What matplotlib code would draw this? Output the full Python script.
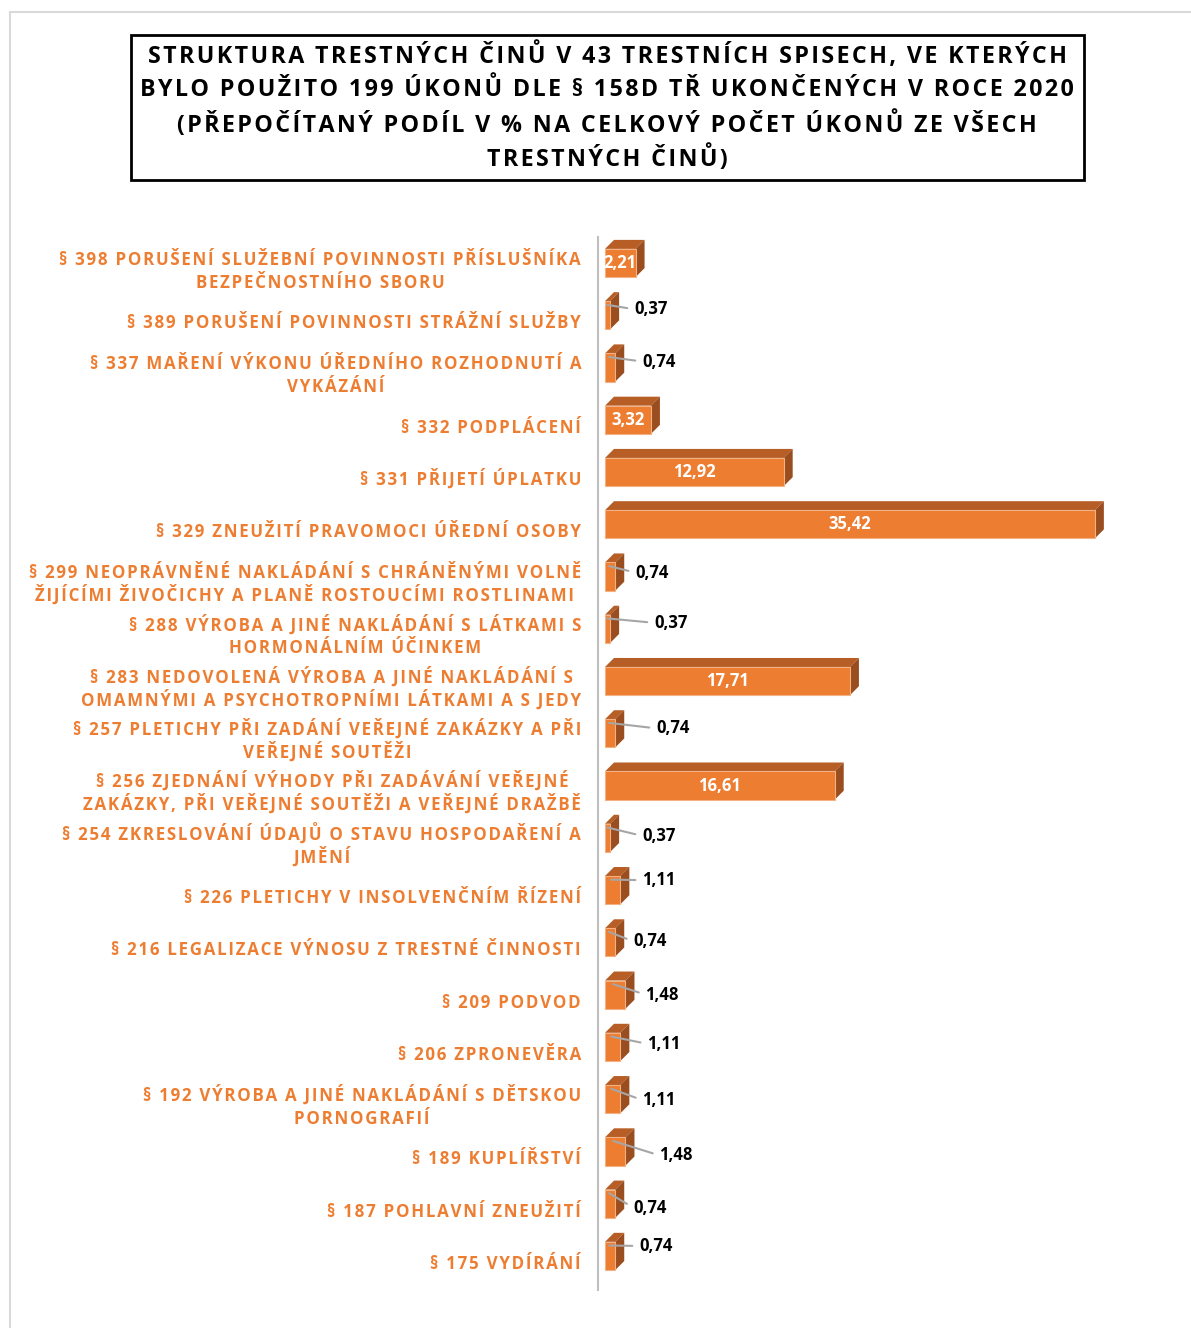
import matplotlib
matplotlib.use("Agg")
import matplotlib.pyplot as plt
from matplotlib.patches import Polygon, Rectangle
from matplotlib.transforms import blended_transform_factory, offset_copy

plt.rcParams['font.family'] = ['Open Sans', 'DejaVu Sans']

title_lines = [
    "STRUKTURA TRESTNÝCH ČINŮ V 43 TRESTNÍCH SPISECH, VE KTERÝCH",
    "BYLO POUŽITO 199 ÚKONŮ DLE § 158D TŘ UKONČENÝCH V ROCE 2020",
    "(PŘEPOČÍTANÝ PODÍL V % NA CELKOVÝ POČET ÚKONŮ ZE VŠECH",
    "TRESTNÝCH ČINŮ)",
]

categories = [
    "§ 398 PORUŠENÍ SLUŽEBNÍ POVINNOSTI PŘÍSLUŠNÍKA\nBEZPEČNOSTNÍHO SBORU",
    "§ 389 PORUŠENÍ POVINNOSTI STRÁŽNÍ SLUŽBY",
    "§ 337 MAŘENÍ VÝKONU ÚŘEDNÍHO ROZHODNUTÍ A\nVYKÁZÁNÍ",
    "§ 332 PODPLÁCENÍ",
    "§ 331 PŘIJETÍ ÚPLATKU",
    "§ 329 ZNEUŽITÍ PRAVOMOCI ÚŘEDNÍ OSOBY",
    "§ 299 NEOPRÁVNĚNÉ NAKLÁDÁNÍ S CHRÁNĚNÝMI VOLNĚ\nŽIJÍCÍMI ŽIVOČICHY A PLANĚ ROSTOUCÍMI ROSTLINAMI",
    "§ 288 VÝROBA A JINÉ NAKLÁDÁNÍ S LÁTKAMI S\nHORMONÁLNÍM ÚČINKEM",
    "§ 283 NEDOVOLENÁ VÝROBA A JINÉ NAKLÁDÁNÍ S\nOMAMNÝMI A PSYCHOTROPNÍMI LÁTKAMI A S JEDY",
    "§ 257 PLETICHY PŘI ZADÁNÍ VEŘEJNÉ ZAKÁZKY A PŘI\nVEŘEJNÉ SOUTĚŽI",
    "§ 256 ZJEDNÁNÍ VÝHODY PŘI ZADÁVÁNÍ VEŘEJNÉ\nZAKÁZKY, PŘI VEŘEJNÉ SOUTĚŽI A VEŘEJNÉ DRAŽBĚ",
    "§ 254 ZKRESLOVÁNÍ ÚDAJŮ O STAVU HOSPODAŘENÍ A\nJMĚNÍ",
    "§ 226 PLETICHY V INSOLVENČNÍM ŘÍZENÍ",
    "§ 216 LEGALIZACE VÝNOSU Z TRESTNÉ ČINNOSTI",
    "§ 209 PODVOD",
    "§ 206 ZPRONEVĚRA",
    "§ 192 VÝROBA A JINÉ NAKLÁDÁNÍ S DĚTSKOU\nPORNOGRAFIÍ",
    "§ 189 KUPLÍŘSTVÍ",
    "§ 187 POHLAVNÍ ZNEUŽITÍ",
    "§ 175 VYDÍRÁNÍ",
]

values = [2.21, 0.37, 0.74, 3.32, 12.92, 35.42, 0.74, 0.37, 17.71, 0.74,
          16.61, 0.37, 1.11, 0.74, 1.48, 1.11, 1.11, 1.48, 0.74, 0.74]

value_labels = ["2,21", "0,37", "0,74", "3,32", "12,92", "35,42", "0,74", "0,37",
                "17,71", "0,74", "16,61", "0,37", "1,11", "0,74", "1,48", "1,11",
                "1,11", "1,48", "0,74", "0,74"]

# label placement: None = inside bar, else pixel offset (right, down) from bar end
label_offsets = [None, (24, -6), (27, -6), None, None, None, (20, -4), (44, -6),
                 None, (41, -5), None, (32, -2), (22, -10), (18, -1), (20, 0),
                 (27, -3), (22, 1), (34, 4), (18, 4), (24, -10)]

W, H = 1191, 1328
fig = plt.figure(figsize=(W / 100, H / 100), dpi=100)
fig.patch.set_facecolor('white')

# outer frame
fig.add_artist(Rectangle((10 / W, -0.01), 1.1, 1 - 12 / H + 0.01, transform=fig.transFigure,
                         fill=False, edgecolor='#D9D9D9', linewidth=1.5))

# title box
bx0, bx1, by0, by1 = 131, 1084, 35, 180
fig.add_artist(Rectangle((bx0 / W, 1 - by1 / H), (bx1 - bx0) / W, (by1 - by0) / H,
                         transform=fig.transFigure, fill=False, edgecolor='black', linewidth=2))

HS = '\u200a'


def spaced(s, sep=HS):
    return sep.join(list(s))


for yy, line in zip([56, 90, 125, 159], title_lines):
    fig.text(607 / W, 1 - yy / H, spaced(line), ha='center', va='center',
             fontsize=16.75, fontweight='bold', color='black')

# axes geometry
px_per_unit = 13.83
ax_left_px, ax_right_px = 598, 1150
ax_top_px, ax_bot_px = 237, 1290
ax = fig.add_axes([ax_left_px / W, 1 - ax_bot_px / H,
                   (ax_right_px - ax_left_px) / W, (ax_bot_px - ax_top_px) / H])
x0 = -(605 - ax_left_px) / px_per_unit
ax.set_xlim(x0, x0 + (ax_right_px - ax_left_px) / px_per_unit)
row_px = 52.26
first_center = 263
ax.set_ylim((ax_bot_px - first_center) / row_px, (ax_top_px - first_center) / row_px)
ax.axis('off')
ax.plot([x0, x0], list(ax.get_ylim()), color='#BFBFBF', lw=1.5, clip_on=False)

front = '#ED7D31'
top_c = '#B65E26'
side_c = '#9A4D1E'
h = 0.54
dx = 9 / px_per_unit
dy = 9 / row_px

ys = list(range(len(values)))
ax.barh(ys, values, height=h, left=0, color=front, edgecolor='#F4B183', linewidth=0.8, zorder=3)
for y, v in zip(ys, values):
    yt = y - h / 2
    yb = y + h / 2
    ax.add_patch(Polygon([(0, yt), (v, yt), (v + dx, yt - dy), (dx, yt - dy)],
                         closed=True, facecolor=top_c, edgecolor='none', zorder=2))
    ax.add_patch(Polygon([(v, yt), (v + dx, yt - dy), (v + dx, yb - dy), (v, yb)],
                         closed=True, facecolor=side_c, edgecolor='none', zorder=2))

lift = 0.2
for y, v, lab, off in zip(ys, values, value_labels, label_offsets):
    if off is None:
        ax.text(v / 2, y, lab, ha='center', va='center', color='white',
                fontsize=12, fontweight='bold', zorder=5)
    else:
        anchor_x = v * 0.4
        shift = (v - anchor_x) * px_per_unit
        ax.annotate(lab, xy=(anchor_x, y - lift),
                    xytext=(off[0] + shift, -off[1] - lift * row_px),
                    textcoords='offset pixels',
                    ha='left', va='center', fontsize=12, fontweight='bold', color='black',
                    arrowprops=dict(arrowstyle='-', color='#A6A6A6', lw=1.5,
                                    shrinkA=3, shrinkB=0, relpos=(0, 0.5)),
                    zorder=5)

# category labels: each line drawn separately with a fixed line pitch
renderer = fig.canvas.get_renderer()
trans = blended_transform_factory(fig.transFigure, ax.transData)
label_kw = dict(fontsize=12.2, fontweight='bold', color=front)
right_px = 581
pitch = 23
for y, cat in zip(ys, categories):
    lines = [spaced(s) for s in cat.split("\n")]
    widths = []
    for s in lines:
        t = fig.text(0, 0, s, **label_kw)
        widths.append(t.get_window_extent(renderer).width)
        t.remove()
    cx = right_px - max(widths) / 2
    n = len(lines)
    for i, s in enumerate(lines):
        down = 7 + 6 + (i - (n - 1) / 2) * pitch
        tr = offset_copy(trans, fig=fig, x=0, y=-down, units='dots')
        ax.text(cx / W, y, s, transform=tr, ha='center', va='baseline', **label_kw)

fig.savefig('out.png', dpi=100, facecolor='white')
